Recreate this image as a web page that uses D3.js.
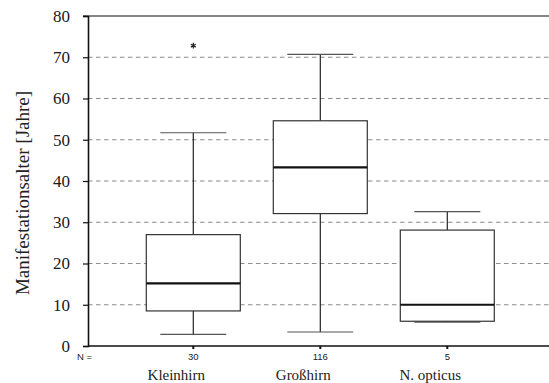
<!DOCTYPE html>
<html>
<head>
<meta charset="utf-8">
<script src="https://cdn.jsdelivr.net/npm/d3@7"></script>
<style>
  html, body { margin: 0; padding: 0; background: #fff; }
  svg { display: block; }
</style>
</head>
<body>
<svg id="chart" width="549" height="383"></svg>
<script>
// Categories and five-number summaries (years)
const categories = ["Kleinhirn", "Großhirn", "N. opticus"];
const counts = [30, 116, 5];
const whiskerLow = [2.8, 3.4, 5.8];
const q1 = [8.5, 32.1, 6.0];
const median = [15.2, 43.3, 10.0];
const q3 = [27.0, 54.6, 28.1];
const whiskerHigh = [51.7, 70.7, 32.6];
// Extreme values (category, value)
const extremes = [["Kleinhirn", 72.8]];
const yTicks = [0, 10, 20, 30, 40, 50, 60, 70, 80];

const svg = d3.select("#chart");
const plotLeft = 88, plotRight = 549, plotTop = 16, plotBottom = 346;

const y = d3.scaleLinear().domain([0, 80]).range([plotBottom, plotTop]);
const x = d3.scalePoint().domain(categories).range([193.3, 447.3]);
const boxW = 94, capW = 66;

const serif = "'Liberation Serif', 'Times New Roman', serif";
const sans = "'Liberation Sans', Arial, sans-serif";

// Dashed horizontal grid lines
svg.append("g")
  .selectAll("line")
  .data(yTicks.filter(d => d > 0 && d < 80))
  .join("line")
  .attr("x1", plotLeft).attr("x2", plotRight)
  .attr("y1", d => y(d)).attr("y2", d => y(d))
  .attr("stroke", "#8c8c8c")
  .attr("stroke-width", 1.2)
  .attr("stroke-dasharray", "4.5,3.5");

// Top frame line
svg.append("line")
  .attr("x1", plotLeft - 5).attr("x2", plotRight)
  .attr("y1", y(80)).attr("y2", y(80))
  .attr("stroke", "#111").attr("stroke-width", 1.2);

// Boxes
const data = categories.map((c, i) => ({
  c, n: counts[i], lo: whiskerLow[i], q1: q1[i], med: median[i], q3: q3[i], hi: whiskerHigh[i]
}));

const g = svg.append("g").selectAll("g").data(data).join("g");

// Whisker stems
g.append("line")
  .attr("x1", d => x(d.c)).attr("x2", d => x(d.c))
  .attr("y1", d => y(d.hi)).attr("y2", d => y(d.q3))
  .attr("stroke", "#222").attr("stroke-width", 1.2);
g.append("line")
  .attr("x1", d => x(d.c)).attr("x2", d => x(d.c))
  .attr("y1", d => y(d.q1)).attr("y2", d => y(d.lo))
  .attr("stroke", "#222").attr("stroke-width", 1.2);

// Whisker caps
g.append("line")
  .attr("x1", d => x(d.c) - capW / 2).attr("x2", d => x(d.c) + capW / 2)
  .attr("y1", d => y(d.hi)).attr("y2", d => y(d.hi))
  .attr("stroke", "#555").attr("stroke-width", 1.2);
g.append("line")
  .attr("x1", d => x(d.c) - capW / 2).attr("x2", d => x(d.c) + capW / 2)
  .attr("y1", d => y(d.lo)).attr("y2", d => y(d.lo))
  .attr("stroke", "#555").attr("stroke-width", 1.2);

// Box body
g.append("rect")
  .attr("x", d => x(d.c) - boxW / 2)
  .attr("width", boxW)
  .attr("y", d => y(d.q3))
  .attr("height", d => y(d.q1) - y(d.q3))
  .attr("fill", "#fff")
  .attr("stroke", "#333").attr("stroke-width", 1.2);

// Median line
g.append("line")
  .attr("x1", d => x(d.c) - boxW / 2).attr("x2", d => x(d.c) + boxW / 2)
  .attr("y1", d => y(d.med)).attr("y2", d => y(d.med))
  .attr("stroke", "#111").attr("stroke-width", 2.2);

// Extreme values
svg.append("g").selectAll("path").data(extremes).join("path")
  .attr("transform", d => `translate(${x(d[0])},${y(d[1])})`)
  .attr("d", d3.symbol(d3.symbolAsterisk, 22))
  .attr("stroke", "#222").attr("stroke-width", 1.2).attr("fill", "none");

// Y axis
const yAxis = svg.append("g")
  .attr("transform", `translate(${plotLeft},0)`)
  .call(d3.axisLeft(y).tickValues(yTicks).tickSize(5).tickPadding(13).tickFormat(d3.format("d")));
yAxis.select(".domain").attr("stroke", "#111").attr("stroke-width", 1.6);
yAxis.selectAll(".tick line").attr("stroke", "#111").attr("stroke-width", 1.2);
yAxis.selectAll(".tick text")
  .style("font-family", serif).style("font-size", "17px").attr("fill", "#1a1a1a");

// Bottom axis line
svg.append("line")
  .attr("x1", plotLeft).attr("x2", plotRight)
  .attr("y1", y(0)).attr("y2", y(0))
  .attr("stroke", "#111").attr("stroke-width", 1.6);

// Category ticks
svg.append("g").selectAll("line").data(categories).join("line")
  .attr("x1", d => x(d)).attr("x2", d => x(d))
  .attr("y1", y(0)).attr("y2", y(0) + 3)
  .attr("stroke", "#111").attr("stroke-width", 2);

// Counts row
svg.append("text")
  .attr("x", 77).attr("y", 360)
  .attr("font-family", sans).attr("font-size", 9.5).attr("fill", "#222")
  .text("N =");
svg.append("g").selectAll("text").data(data).join("text")
  .attr("x", d => x(d.c)).attr("y", 360)
  .attr("text-anchor", "middle")
  .attr("font-family", sans).attr("font-size", 9.5).attr("fill", "#222")
  .text(d => d.n);

// Category labels (set slightly left of the box centres)
svg.append("g").selectAll("text").data(categories).join("text")
  .attr("x", d => x(d) - 17).attr("y", 380)
  .attr("text-anchor", "middle")
  .attr("font-family", serif).attr("font-size", 15).attr("fill", "#222")
  .text(d => d);

// Y axis title
svg.append("text")
  .attr("transform", `translate(29,${(plotTop + plotBottom) / 2 + 12}) rotate(-90)`)
  .attr("text-anchor", "middle")
  .attr("font-family", serif).attr("font-size", 19).attr("fill", "#222")
  .text("Manifestationsalter [Jahre]");
</script>
</body>
</html>
